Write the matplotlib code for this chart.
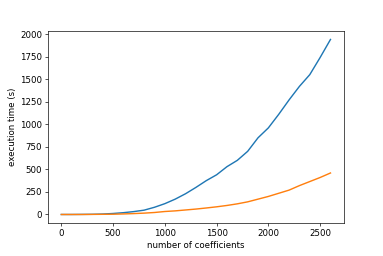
import matplotlib
matplotlib.use("Agg")
import matplotlib.pyplot as plt

n_coeffs = [0, 100, 200, 300, 400, 500, 600, 700, 800, 900, 1000, 1100, 1200,
            1300, 1400, 1500, 1600, 1700, 1800, 1900, 2000, 2100, 2200, 2300,
            2400, 2500, 2600]
time_a = [0, 0, 1, 2, 5, 11, 20, 32, 48, 80, 120, 170, 230, 300, 375, 440,
          530, 600, 700, 850, 960, 1110, 1270, 1420, 1550, 1740, 1940]
time_b = [0, 0, 0, 1, 2, 3, 6, 10, 15, 22, 33, 40, 50, 60, 72, 85, 100, 118,
          140, 170, 200, 235, 270, 320, 365, 410, 460]

plt.rcParams["font.size"] = 10.4

fig = plt.figure(figsize=(383 / 60, 256 / 60), dpi=60)
ax = fig.add_subplot(111)
fig.subplots_adjust(left=0.125, right=0.898, top=0.88, bottom=0.128)

ax.plot(n_coeffs, time_a, lw=1.7)
ax.plot(n_coeffs, time_b, lw=1.7)

ax.set_xlabel("number of coefficients")
ax.set_ylabel("execution time (s)")

fig.savefig("out.png", dpi=60)
